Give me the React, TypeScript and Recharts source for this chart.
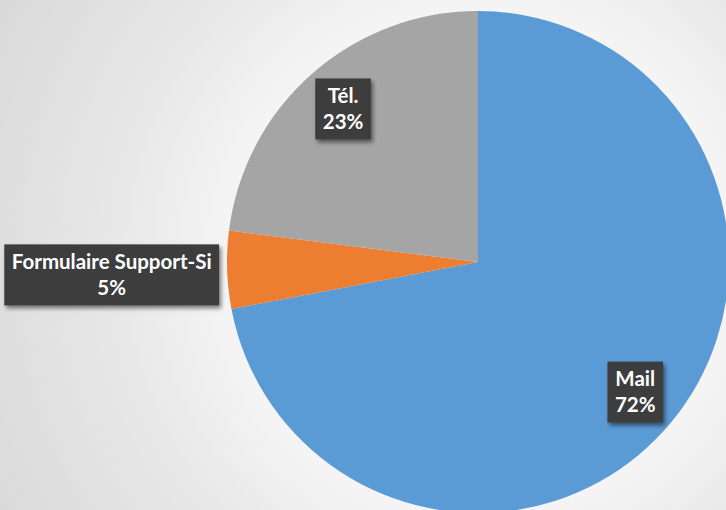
import { Cell, Pie, PieChart } from "recharts";

const categories = ["Mail", "Formulaire Support-Si", "Tél."];
const shares = [72, 5, 23];
const colors = ["#5b9bd5", "#ed7d31", "#a5a5a5"];

const data = categories.map((name, i) => ({ name, value: shares[i] }));

const RAD = Math.PI / 180;
const FS = 20.5;
const FONT = "Lato, 'Open Sans', sans-serif";

let ctx: CanvasRenderingContext2D | null = null;
function textWidth(s: string) {
  if (!ctx) ctx = document.createElement("canvas").getContext("2d");
  if (!ctx) return s.length * FS * 0.5;
  ctx.font = `bold ${FS}px Lato`;
  return ctx.measureText(s).width;
}

function renderLabel(props: any) {
  const { cx, cy, midAngle, outerRadius, percent, name } = props;
  const lines = [name, `${Math.round(percent * 100)}%`];
  const w = Math.max(...lines.map(textWidth)) + 15;
  const h = 61;
  const cos = Math.cos(-midAngle * RAD);
  const sin = Math.sin(-midAngle * RAD);
  let x: number;
  let y: number;
  if (percent < 0.1) {
    // small slice: box sits outside the pie, to the left
    x = cx + outerRadius * cos - 8 - w / 2;
    y = cy + outerRadius * sin + 5;
  } else {
    x = cx + outerRadius * 0.813 * cos;
    y = cy + outerRadius * 0.813 * sin;
  }
  return (
    <g>
      <rect x={x - w / 2} y={y - h / 2} width={w} height={h} fill="#3d3d3d" filter="url(#lblShadow)" />
      <text x={x} y={y - 6} textAnchor="middle" fill="#fff" fontFamily={FONT} fontWeight="bold" fontSize={FS}>
        {lines[0]}
      </text>
      <text x={x} y={y + 20} textAnchor="middle" fill="#fff" fontFamily={FONT} fontWeight="bold" fontSize={FS}>
        {lines[1]}
      </text>
    </g>
  );
}

export default function App() {
  return (
    <div
      style={{
        position: "absolute",
        left: 0,
        top: 0,
        width: 726,
        height: 510,
        overflow: "hidden",
        background:
          "radial-gradient(circle at 478px 262px, #fafafa 0px, #f4f4f4 255px, #e8e8e8 360px, #d8d8d8 560px)",
      }}
    >
      <svg width={0} height={0} style={{ position: "absolute" }}>
        <defs>
          <filter id="lblShadow" x="-20%" y="-20%" width="150%" height="150%">
            <feDropShadow dx={2} dy={3} stdDeviation={2} floodColor="#000" floodOpacity={0.5} />
          </filter>
        </defs>
      </svg>
      <PieChart width={726} height={510}>
        <Pie
          data={data}
          dataKey="value"
          nameKey="name"
          cx={473}
          cy={257}
          outerRadius={251}
          startAngle={90}
          endAngle={-270}
          stroke="none"
          labelLine={false}
          label={renderLabel}
          isAnimationActive={false}
        >
          {data.map((d, i) => (
            <Cell key={d.name} fill={colors[i]} />
          ))}
        </Pie>
      </PieChart>
    </div>
  );
}
